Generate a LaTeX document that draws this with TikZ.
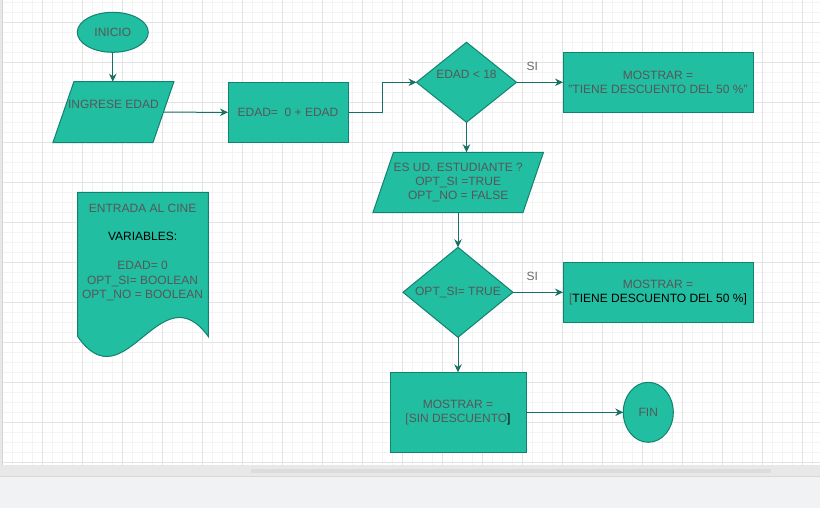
\documentclass[tikz,border=0pt]{standalone}
\usepackage{fontspec}
\setmainfont{Liberation Sans}
\usetikzlibrary{shapes.geometric,arrows.meta}
\definecolor{tealfill}{HTML}{21BEA2}
\definecolor{tealline}{HTML}{138170}
\definecolor{arrowcol}{HTML}{187064}
\definecolor{txtcol}{HTML}{575757}
\definecolor{silcol}{HTML}{6A6A6A}
\definecolor{minorg}{HTML}{F3F3F3}
\definecolor{majorg}{HTML}{E3E3E3}
\definecolor{bandcol}{HTML}{E8E8E8}
\definecolor{bandline}{HTML}{D8D8D8}
\definecolor{pagebg}{HTML}{F1F2F4}
\definecolor{scrollcol}{HTML}{DCDCDC}
\definecolor{edgecol}{HTML}{D4D4D4}
\pgfdeclarelayer{gridlayer}
\pgfdeclarelayer{shapelayer}
\pgfsetlayers{gridlayer,shapelayer,main}
\begin{document}
\begin{tikzpicture}[x=1pt,y=-1pt,
  every node/.style={font=\fontsize{12pt}{14.4pt}\selectfont, text=txtcol, inner sep=0pt, outer sep=0pt},
  shapebox/.style={draw=tealline, fill=tealfill, line width=1pt},
  termbox/.style={shapebox, ellipse},
  procbox/.style={shapebox, rectangle, align=center},
  decbox/.style={shapebox, diamond, align=center},
  ghostbox/.style={rectangle, align=center},
  shapeline/.style={draw=tealline, fill=tealfill, line width=1pt},
  flow/.style={draw=arrowcol, line width=1pt, -{Stealth[length=8pt,width=7.5pt]}},
  silabel/.style={text=silcol},
  minorline/.style={draw=minorg, line width=0.8pt},
  majorline/.style={draw=majorg, line width=0.9pt}]
\useasboundingbox (0,0) rectangle (820,508);

\begin{pgfonlayer}{gridlayer}
  \fill[pagebg] (0,0) rectangle (820,508);
  \fill[white] (0,0) rectangle (820,465);
  \foreach \i in {0,...,81} \draw[minorline] ({2.7+10*\i},0) -- ({2.7+10*\i},465);
  \foreach \i in {0,...,46} \draw[minorline] (0,{2.7+10*\i}) -- (820,{2.7+10*\i});
  \foreach \i in {0,...,19} \draw[majorline] ({42.7+40*\i},0) -- ({42.7+40*\i},465);
  \foreach \i in {0,...,11} \draw[majorline] (0,{22.7+40*\i}) -- (820,{22.7+40*\i});
  \fill[bandcol] (0,465) rectangle (820,476);
  \draw[bandline] (0,476.5) -- (820,476.5);
  \fill[scrollcol] (251,469.3) rectangle (771,472.7);
  \fill[bandcol] (0,0) rectangle (3,465);
  \draw[edgecol] (2.5,0) -- (2.5,465);
\end{pgfonlayer}

% nodes
\node[termbox, minimum width=71pt, minimum height=40pt] (ini) at (112.8,32.3) {INICIO};
\node[ghostbox, minimum width=100pt, minimum height=61pt, text height=9pt, text depth=15.4pt] (in1) at (113.4,112.2) {INGRESE EDAD};
\node[procbox, minimum width=120pt, minimum height=60pt] (ed) at (288,112.3) {EDAD=\ \ 0 + EDAD};
\node[decbox, aspect=1.25, minimum width=100pt, minimum height=80pt, text height=9pt, text depth=16.4pt] (d1) at (466.5,82.3) {EDAD < 18};
\node[procbox, minimum width=190pt, minimum height=60pt] (m1) at (658,82.3) {MOSTRAR =\\"TIENE DESCUENTO DEL 50 \%"};
\node[ghostbox, minimum width=150pt, minimum height=60.4pt] (es) at (458.2,182.5) {ES UD. ESTUDIANTE ?\\OPT\_SI =TRUE\\OPT\_NO = FALSE};
\node[decbox, aspect=1.222, minimum width=110pt, minimum height=90pt] (d2) at (458,292.3) {OPT\_SI= TRUE};
\node[procbox, minimum width=190pt, minimum height=60pt] (m2) at (658,292.3) {MOSTRAR =\\{}[{\color{black}TIENE DESCUENTO DEL 50 \%]}};
\node[procbox, minimum width=136pt, minimum height=80pt] (sd) at (458,412.3) {MOSTRAR =\\{}[SIN DESCUENTO{\color{black}]}};
\node[termbox, minimum width=50pt, minimum height=60pt] (fin) at (648.3,412.3) {FIN};
\node[align=center] (doct) at (142.6,252.4) {ENTRADA AL CINE\\~\\{\color{black}VARIABLES:}\\~\\EDAD= 0\\OPT\_SI= BOOLEAN\\OPT\_NO = BOOLEAN};
\node[silabel] (si1) at (532.3,66.7) {SI};
\node[silabel] (si2) at (532.3,276.7) {SI};

% outlines of parallelograms and document
\begin{pgfonlayer}{shapelayer}
  \draw[shapeline] ([xshift=10.5pt]in1.north west) -- ([xshift=10.5pt]in1.north east) -- ([xshift=-10.5pt]in1.south east) -- ([xshift=-10.5pt]in1.south west) -- cycle;
  \draw[shapeline] ([xshift=10.3pt]es.north west) -- ([xshift=10.3pt]es.north east) -- ([xshift=-10.3pt]es.south east) -- ([xshift=-10.3pt]es.south west) -- cycle;
  \draw[shapeline] (77.7,192.3) -- (208.3,192.3) -- (208.3,336.5) .. controls (160,270) and (125,405) .. (77.7,336.5) -- cycle;
\end{pgfonlayer}

% connectors
\draw[flow] (ini.south) -- (ini.south |- in1.north);
\draw[flow] (in1.east) -- (ed.west);
\draw[flow] (ed.east) -- ++(34.3,0) |- (d1.west);
\draw[flow] (d1.east) -- (m1.west);
\draw[flow] (d1.south) -- (d1.south |- es.north);
\draw[flow] (d2.north |- es.south) -- (d2.north);
\draw[flow] (d2.east) -- (m2.west);
\draw[flow] (d2.south) -- (sd.north);
\draw[flow] (sd.east) -- (fin.west);
\end{tikzpicture}
\end{document}
